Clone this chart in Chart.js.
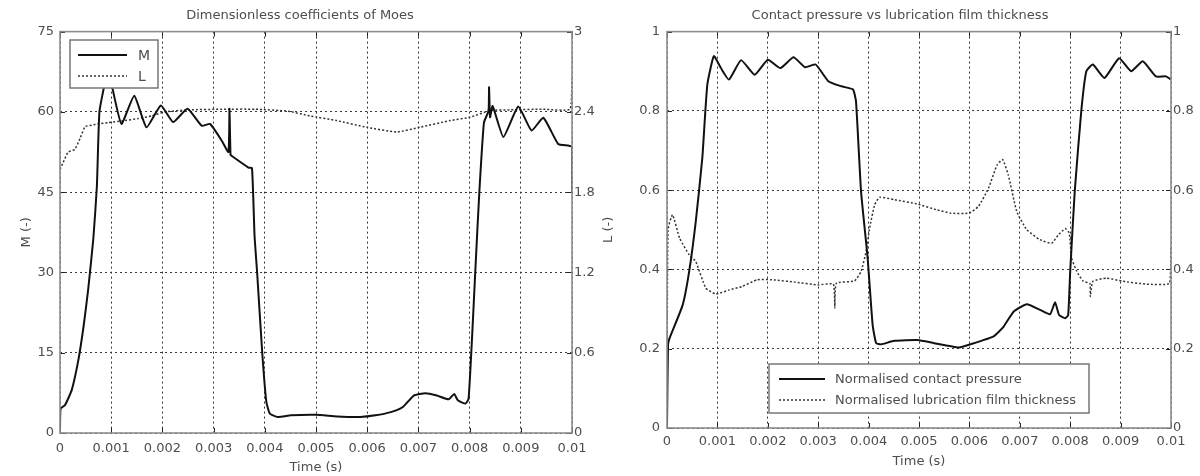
<!DOCTYPE html>
<html>
<head>
<meta charset="utf-8">
<script src="https://cdn.jsdelivr.net/npm/chart.js@4.4.1/dist/chart.umd.min.js"></script>
<style>
    html, body { margin: 0; padding: 0; background: #fff; }
    #wrap { position: relative; width: 1200px; height: 476px; }
    canvas { position: absolute; top: 0; }
    #left  { left: 0; }
    #right { left: 600px; }
</style>
</head>
<body>
<div id="wrap">
    <canvas id="left" width="600" height="476" style="width:600px;height:476px"></canvas>
    <canvas id="right" width="600" height="476" style="width:600px;height:476px"></canvas>
</div>
<script>
// ---- data ----
var timeTicks = [0, 0.001, 0.002, 0.003, 0.004, 0.005, 0.006, 0.007, 0.008, 0.009, 0.01];
var mTicks    = [0, 15, 30, 45, 60, 75];
var lTicks    = [0, 0.6, 1.2, 1.8, 2.4, 3];
var normTicks = [0, 0.2, 0.4, 0.6, 0.8, 1];

// Left: dimensionless coefficient M
var mTime = [0, 0.00001, 0.0001, 0.00023, 0.00036, 0.00046, 0.00055, 0.00065, 0.00072, 0.00077,
    0.00088, 0.00095, 0.00101, 0.0012, 0.00145, 0.00169, 0.00197, 0.00221, 0.00249, 0.00277,
    0.00293, 0.00316, 0.00329, 0.00331, 0.00333, 0.00335, 0.00368, 0.00375, 0.0038, 0.00385,
    0.00395, 0.00403, 0.0041, 0.00425, 0.00451, 0.005, 0.00541, 0.00586, 0.00616, 0.00646,
    0.00669, 0.00691, 0.00714, 0.00736, 0.00759, 0.0077, 0.00777, 0.00792, 0.00798, 0.00805,
    0.00811, 0.00819, 0.00828, 0.00837, 0.00838, 0.0084, 0.00845, 0.00866, 0.00895, 0.00921,
    0.00944, 0.00973, 0.00993, 0.01, 0.01];
var mValues = [0, 4.5, 5.25, 8.06, 13.7, 19.9, 26.8, 36.2, 46, 60,
    65.5, 67, 65, 57.75, 63, 57.1, 61.2, 58.1, 60.6, 57.4,
    57.75, 54.6, 52.5, 60.6, 52, 51.8, 49.6, 49.5, 36.8, 30,
    15, 5.8, 3.6, 3.0, 3.3, 3.4, 3.1, 3.0, 3.3, 3.9,
    4.8, 7.0, 7.45, 7.0, 6.3, 7.3, 6.1, 5.5, 6.4, 18.2,
    30, 45, 58, 60.2, 64.6, 59, 61.1, 55.3, 61, 56.5,
    58.9, 54, 53.7, 53.5, 45];

// Left: dimensionless coefficient L
var lTime = [0, 0.00006, 0.00016, 0.00029, 0.00039, 0.00049, 0.00062, 0.00074, 0.00094, 0.00127,
    0.00153, 0.00179, 0.00205, 0.00251, 0.00316, 0.00381, 0.00446, 0.00488, 0.0054, 0.00599,
    0.00658, 0.00703, 0.00762, 0.00801, 0.0084, 0.00879, 0.00944, 0.00996, 0.01];
var lValues = [1.97, 2.02, 2.1, 2.12, 2.2, 2.29, 2.3, 2.31, 2.32, 2.335,
    2.35, 2.37, 2.4, 2.415, 2.42, 2.42, 2.405, 2.37, 2.335, 2.285,
    2.25, 2.285, 2.335, 2.36, 2.41, 2.415, 2.42, 2.42, 2.65];

// Right: normalised contact pressure
var pTime = [0, 0.00002, 0.00005, 0.00031, 0.00044, 0.00057, 0.0007, 0.0008, 0.00093, 0.00107,
    0.00123, 0.00147, 0.00174, 0.002, 0.00225, 0.00251, 0.00274, 0.00295, 0.0032, 0.00346,
    0.00369, 0.00375, 0.00385, 0.00398, 0.00408, 0.00415, 0.00425, 0.00451, 0.00497, 0.0053,
    0.00579, 0.00602, 0.00648, 0.00668, 0.00688, 0.00714, 0.0074, 0.0076, 0.0077, 0.00778,
    0.0079, 0.00796, 0.008, 0.00809, 0.00822, 0.00832, 0.00845, 0.00868, 0.00897, 0.00921,
    0.00944, 0.0097, 0.0099, 0.01];
var pValues = [0, 0.21, 0.226, 0.31, 0.395, 0.52, 0.68, 0.866, 0.938, 0.908,
    0.879, 0.928, 0.891, 0.929, 0.908, 0.935, 0.91, 0.917, 0.875, 0.862,
    0.854, 0.824, 0.597, 0.43, 0.26, 0.214, 0.211, 0.22, 0.222, 0.214,
    0.203, 0.211, 0.231, 0.256, 0.294, 0.312, 0.298, 0.287, 0.317, 0.285,
    0.277, 0.285, 0.395, 0.597, 0.80, 0.90, 0.917, 0.883, 0.933, 0.9,
    0.925, 0.887, 0.887, 0.879];

// Right: normalised lubrication film thickness
var fTime = [0, 0.00002, 0.00011, 0.00025, 0.00044, 0.00057, 0.00077, 0.00097, 0.00123, 0.00149,
    0.00179, 0.00208, 0.00254, 0.003, 0.0033, 0.00333, 0.00336, 0.00372, 0.00385, 0.00395,
    0.00402, 0.00412, 0.00422, 0.00451, 0.00497, 0.00536, 0.00563, 0.00599, 0.00618, 0.00638,
    0.00655, 0.00666, 0.00677, 0.00694, 0.00714, 0.0074, 0.00763, 0.00776, 0.0079, 0.00798,
    0.00803, 0.00813, 0.00826, 0.00839, 0.0084, 0.00845, 0.00872, 0.00905, 0.00951, 0.00997,
    0.01];
var fValues = [0.05, 0.5, 0.538, 0.479, 0.437, 0.42, 0.353, 0.338, 0.348, 0.357,
    0.374, 0.374, 0.368, 0.361, 0.363, 0.302, 0.365, 0.371, 0.395, 0.445,
    0.504, 0.563, 0.582, 0.576, 0.565, 0.55, 0.542, 0.542, 0.559, 0.605,
    0.664, 0.677, 0.639, 0.546, 0.5, 0.475, 0.466, 0.486, 0.503, 0.492,
    0.428, 0.395, 0.37, 0.365, 0.332, 0.37, 0.378, 0.37, 0.363, 0.365,
    0.46];

var FONT = '"DejaVu Sans", "Liberation Sans", Arial, sans-serif';
var TEXT = '#4d4d4d';

function _zip(xs, ys) {
    return xs.map(function(x, i) { return { x: x, y: ys[i] }; });
}

function _fmt(v) {
    return String(parseFloat(v.toFixed(4)));
}

function _fixedTicks(list) {
    return function(scale) {
        scale.ticks = list.map(function(v) { return { value: v }; });
    };
}

// MATLAB-ish box round the plot with short inward tick marks
var framePlugin = {
    id: 'frame',
    afterDatasetsDraw: function(chart) {
        var a = chart.chartArea, ctx = chart.ctx;
        var sx = chart.scales.x, sy = chart.scales.y, sy1 = chart.scales.y1;
        ctx.save();
        ctx.strokeStyle = '#222';
        ctx.lineWidth = 1;
        ctx.beginPath();
        sx.ticks.forEach(function(t) {
            var p = Math.round(sx.getPixelForValue(t.value)) + 0.5;
            ctx.moveTo(p, a.bottom); ctx.lineTo(p, a.bottom - 5);
            ctx.moveTo(p, a.top);    ctx.lineTo(p, a.top + 5);
        });
        sy.ticks.forEach(function(t) {
            var p = Math.round(sy.getPixelForValue(t.value)) + 0.5;
            ctx.moveTo(a.left, p); ctx.lineTo(a.left + 5, p);
        });
        sy1.ticks.forEach(function(t) {
            var p = Math.round(sy1.getPixelForValue(t.value)) + 0.5;
            ctx.moveTo(a.right, p); ctx.lineTo(a.right - 5, p);
        });
        ctx.stroke();
        ctx.strokeStyle = '#8c8c8c';
        ctx.lineWidth = 1.6;
        ctx.strokeRect(a.left, a.top, a.right - a.left, a.bottom - a.top);
        ctx.restore();
    }
};

// Boxed legend drawn inside the plot
var boxLegendPlugin = {
    id: 'boxLegend',
    afterDatasetsDraw: function(chart, args, o) {
        if (!o || !o.box) return;
        var ctx = chart.ctx, b = o.box;
        ctx.save();
        ctx.fillStyle = '#fff';
        ctx.fillRect(b[0], b[1], b[2], b[3]);
        ctx.strokeStyle = '#777';
        ctx.lineWidth = 1.5;
        ctx.strokeRect(b[0], b[1], b[2], b[3]);
        ctx.font = o.fontSize + 'px ' + FONT;
        ctx.textBaseline = 'middle';
        chart.data.datasets.forEach(function(ds, i) {
            var y = b[1] + o.rowY[i];
            ctx.strokeStyle = ds.borderColor;
            ctx.lineWidth = ds.borderWidth;
            ctx.setLineDash(ds.borderDash || []);
            ctx.beginPath();
            ctx.moveTo(b[0] + o.lineX[0], y);
            ctx.lineTo(b[0] + o.lineX[1], y);
            ctx.stroke();
            ctx.setLineDash([]);
            ctx.fillStyle = TEXT;
            ctx.fillText(ds.label, b[0] + o.textX, y + 1);
        });
        ctx.restore();
    }
};

function _axis(list, pos, width, pad, title, titlePad, grid) {
    return {
        type: 'linear',
        position: pos,
        min: list[0],
        max: list[list.length - 1],
        afterBuildTicks: _fixedTicks(list),
        afterFit: function(scale) { scale.width = width; },
        ticks: {
            padding: pad,
            color: TEXT,
            font: { family: FONT, size: 13 },
            callback: function(v) { return _fmt(v); }
        },
        title: title ? {
            display: true, text: title, color: TEXT,
            font: { family: FONT, size: 13 },
            padding: { top: titlePad, bottom: 0 }
        } : { display: false },
        grid: { display: grid, color: '#3a3a3a', lineWidth: 1, drawTicks: false },
        border: { display: false, dash: [2, 3] }
    };
}

function _xAxis(height, pad, titlePad) {
    return {
        type: 'linear',
        min: 0,
        max: 0.01,
        afterBuildTicks: _fixedTicks(timeTicks),
        afterFit: function(scale) { scale.height = height; },
        ticks: {
            padding: pad,
            color: TEXT,
            maxRotation: 0,
            font: { family: FONT, size: 13 },
            callback: function(v) { return _fmt(v); }
        },
        title: {
            display: true, text: 'Time (s)', color: TEXT,
            font: { family: FONT, size: 13 },
            padding: { top: 0, bottom: titlePad }
        },
        grid: { color: '#333', lineWidth: 1, drawTicks: false },
        border: { display: false, dash: [2, 3] }
    };
}

function _title(text) {
    return {
        display: true,
        text: text,
        color: TEXT,
        font: { family: FONT, size: 13, weight: 'normal' },
        padding: { top: 8, bottom: 8 }
    };
}

var solid  = { borderColor: '#111', borderWidth: 2, borderDash: [] };
var dotted = { borderColor: '#333', borderWidth: 1.5, borderDash: [2, 2] };

function _line(label, data, axis, style) {
    return {
        label: label,
        data: data,
        yAxisID: axis,
        borderColor: style.borderColor,
        borderWidth: style.borderWidth,
        borderDash: style.borderDash,
        pointRadius: 0,
        tension: 0.15,
        fill: false
    };
}

new Chart(document.getElementById('left'), {
    type: 'line',
    data: {
        datasets: [
            _line('M', _zip(mTime, mValues), 'y', solid),
            _line('L', _zip(lTime, lValues), 'y1', dotted)
        ]
    },
    options: {
        responsive: false,
        animation: false,
        devicePixelRatio: 1,
        layout: { padding: 0 },
        plugins: {
            legend: { display: false },
            tooltip: { enabled: false },
            title: _title('Dimensionless coefficients of Moes'),
            boxLegend: { box: [70, 40, 88, 48], rowY: [15, 36], lineX: [8, 57], textX: 68, fontSize: 14 }
        },
        scales: {
            x: _xAxis(43, 8, 1),
            y: _axis(mTicks, 'left', 60, 6, 'M (-)', 19, true),
            y1: _axis(lTicks, 'right', 28, 2, null, 0, false)
        }
    },
    plugins: [framePlugin, boxLegendPlugin]
});

new Chart(document.getElementById('right'), {
    type: 'line',
    data: {
        datasets: [
            _line('Normalised contact pressure', _zip(pTime, pValues), 'y', solid),
            _line('Normalised lubrication film thickness', _zip(fTime, fValues), 'y', dotted)
        ]
    },
    options: {
        responsive: false,
        animation: false,
        devicePixelRatio: 1,
        layout: { padding: 0 },
        plugins: {
            legend: { display: false },
            tooltip: { enabled: false },
            title: _title('Contact pressure vs lubrication film thickness'),
            boxLegend: { box: [169, 364, 320, 49], rowY: [15, 36], lineX: [10, 56], textX: 66, fontSize: 13 }
        },
        scales: {
            x: _xAxis(48, 6, 7),
            y: _axis(normTicks, 'left', 67, 7, 'L (-)', 1, true),
            y1: _axis(normTicks, 'right', 29, 2, null, 0, false)
        }
    },
    plugins: [framePlugin, boxLegendPlugin]
});
</script>
</body>
</html>
